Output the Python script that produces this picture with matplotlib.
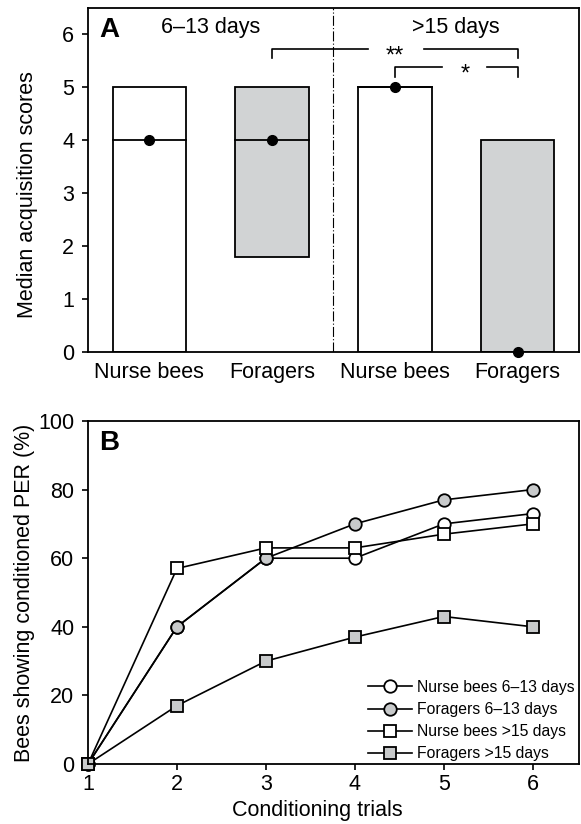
import matplotlib
matplotlib.use("Agg")
import matplotlib.pyplot as plt

plt.rcParams["font.family"] = ["Liberation Sans", "DejaVu Sans"]
plt.rcParams["axes.linewidth"] = 1.3

# panel A: box summary of acquisition scores
groups = ["Nurse bees", "Foragers", "Nurse bees", "Foragers"]
q_low = [0, 1.8, 0, 0]
q_high = [5, 5, 5, 4]
medians = [4, 4, 5, 0]
box_colors = ["white", "#d1d3d4", "white", "#d1d3d4"]

# panel B: acquisition curves
trials = [1, 2, 3, 4, 5, 6]
nurse_young = [0, 40, 60, 60, 70, 73]
forager_young = [0, 40, 60, 70, 77, 80]
nurse_old = [0, 57, 63, 63, 67, 70]
forager_old = [0, 17, 30, 37, 43, 40]

fig = plt.figure(figsize=(5.81, 8.24), dpi=100)
axA = fig.add_axes([0.1515, 0.5728, 0.845, 0.4175])
axB = fig.add_axes([0.1515, 0.0728, 0.845, 0.4163])

fs = 15.5

# ---- A ----
xs = list(range(len(groups)))
heights = [h - l for h, l in zip(q_high, q_low)]
axA.bar(xs, heights, bottom=q_low, width=0.6, color=box_colors,
        edgecolor="black", linewidth=1.3, zorder=2)
for x, m in zip(xs, medians):
    axA.plot([x - 0.3, x + 0.3], [m, m], color="black", lw=1.3, zorder=3)
axA.plot(xs, medians, "o", color="black", ms=7, zorder=4, clip_on=False)

axA.axvline(1.5, color="black", lw=0.8, linestyle=(0, (9, 2, 1, 2)), zorder=1)

# significance brackets
y1, y1b = 5.72, 5.55
axA.plot([1, 1, 1.78], [y1b, y1, y1], color="black", lw=1.2)
axA.plot([2.24, 3, 3], [y1, y1, y1b], color="black", lw=1.2)
axA.text(2.0, y1 - 0.14, "**", ha="center", va="center", fontsize=17)
y2, y2b = 5.38, 5.2
axA.plot([2, 2, 2.385], [y2b, y2, y2], color="black", lw=1.2)
axA.plot([2.75, 3, 3], [y2, y2, y2b], color="black", lw=1.2)
axA.text(2.57, y2 - 0.14, "*", ha="center", va="center", fontsize=17)

axA.text(0.5, 6.14, "6\u201313 days", ha="center", va="center", fontsize=fs)
axA.text(2.5, 6.14, ">15 days", ha="center", va="center", fontsize=fs)
axA.text(0.022, 0.975, "A", transform=axA.transAxes, ha="left", va="top",
         fontsize=20, fontweight="bold")

axA.set_xlim(-0.5, 3.5)
axA.set_ylim(0, 6.5)
axA.set_xticks(xs)
axA.set_xticklabels(groups, fontsize=fs)
axA.set_yticks(range(0, 7))
axA.tick_params(axis="x", length=0, pad=7)
axA.tick_params(axis="y", length=4, width=1.2, labelsize=fs, pad=6)
axA.set_ylabel("Median acquisition scores", fontsize=fs, labelpad=17)
axA.yaxis.label.set_y(0.459)

# ---- B ----
kw = dict(color="black", lw=1.2, mec="black", mew=1.3, clip_on=False)
axB.plot(trials, nurse_young, marker="o", ms=9, mfc="white",
         label="Nurse bees 6\u201313 days", **kw)
axB.plot(trials, forager_young, marker="o", ms=9, mfc="#c8cacb",
         label="Foragers 6\u201313 days", **kw)
axB.plot(trials, nurse_old, marker="s", ms=8, mfc="white",
         label="Nurse bees >15 days", **kw)
axB.plot(trials, forager_old, marker="s", ms=8, mfc="#c8cacb",
         label="Foragers >15 days", **kw)

axB.set_xlim(1, 6.52)
axB.set_ylim(0, 100)
axB.set_xticks(trials)
axB.set_yticks(range(0, 101, 20))
axB.tick_params(axis="both", length=4, width=1.2, labelsize=fs)
axB.tick_params(axis="y", pad=6)
axB.set_xlabel("Conditioning trials", fontsize=fs, labelpad=3)
axB.xaxis.label.set_x(0.467)
axB.set_ylabel("Bees showing conditioned PER (%)", fontsize=fs, labelpad=2)
axB.text(0.022, 0.975, "B", transform=axB.transAxes, ha="left", va="top",
         fontsize=20, fontweight="bold")
axB.legend(loc="lower right", frameon=False, fontsize=11.3, handlelength=2.8,
           handletextpad=0.3, labelspacing=0.45, borderaxespad=0.0,
           bbox_to_anchor=(1.003, -0.01))

fig.savefig("out.png", dpi=100)
